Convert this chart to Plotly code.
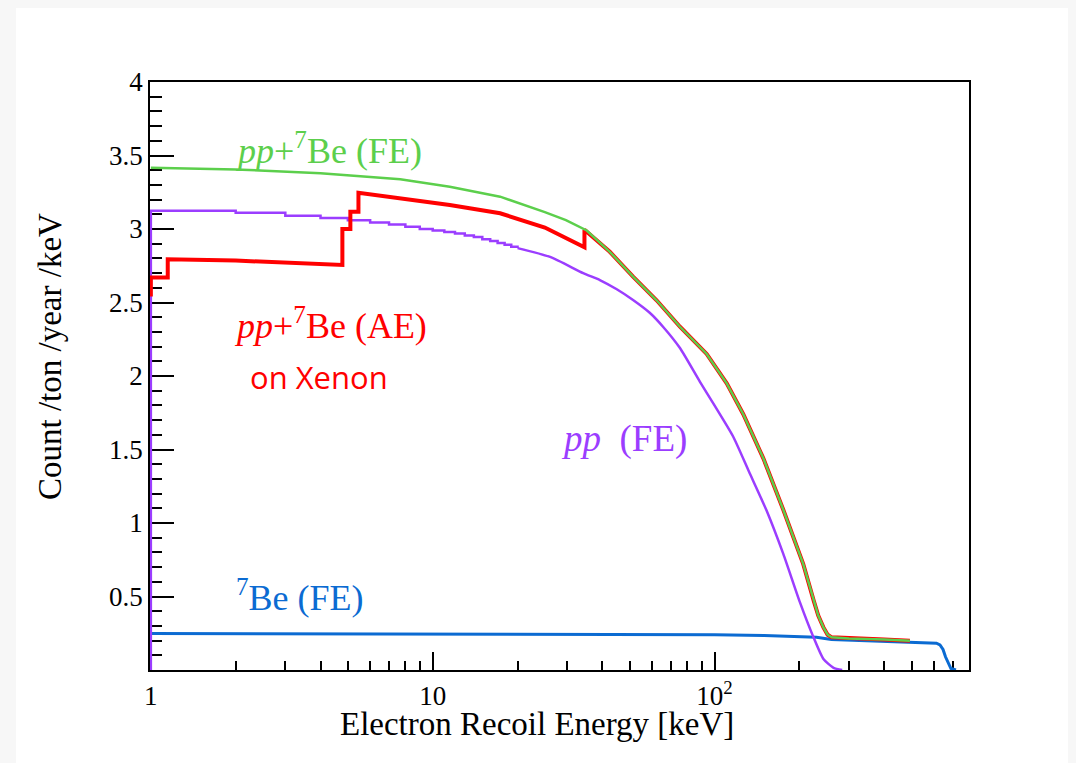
import plotly.graph_objects as go

# ---------------- data ----------------
# pp + 7Be, full electron (FE) approximation  [keV, counts/ton/year/keV]
fe_total_E = [1, 2, 4, 7.67, 11.5, 17.35, 25, 29.7, 35.2, 42.5, 51.4, 62.3, 75.4, 93.8, 110.5, 126.5,
              149, 175.4, 206.5, 225, 233.4, 243.5, 252, 260.4, 300, 400, 493.5]
fe_total_y = [3.417, 3.405, 3.38, 3.338, 3.288, 3.22, 3.115, 3.06, 2.99, 2.845, 2.676, 2.515, 2.335, 2.15, 1.95, 1.74,
              1.44, 1.09, 0.72, 0.47, 0.37, 0.29, 0.24, 0.222, 0.215, 0.207, 0.199]

# pp + 7Be, atomic effects (AE) on xenon (steps at shell binding energies)
ae_total_E = [1.0, 1.0, 1.148, 1.148, 2, 3, 4.782, 4.782, 5.104, 5.104, 5.453, 5.453,
              7.67, 11.5, 17.35, 25, 34.56, 34.56, 42.5, 51.4, 62.3, 75.4, 93.8, 110.5, 126.5,
              149, 175.4, 206.5, 225, 233.4, 243.5, 252, 260.4, 300, 400, 493.5]
ae_total_y = [2.54, 2.67, 2.67, 2.794, 2.785, 2.772, 2.755, 3.0, 3.0, 3.118, 3.118, 3.247,
              3.208, 3.163, 3.107, 3.01, 2.875, 2.995, 2.845, 2.676, 2.515, 2.335, 2.15, 1.95, 1.74,
              1.44, 1.09, 0.72, 0.47, 0.37, 0.29, 0.24, 0.222, 0.215, 0.207, 0.199]

# pp only (FE): 1-keV histogram at low energy ...
pp_bin_edges = [1, 1, 2, 3, 4, 5, 6, 7, 8, 9, 10, 11, 12, 13, 14, 15, 16, 17, 18, 19, 20]
pp_bin_vals = [0, 3.125, 3.11, 3.09, 3.075, 3.06, 3.045, 3.03, 3.015, 3.0, 2.99, 2.98,
               2.97, 2.955, 2.945, 2.93, 2.918, 2.905, 2.893, 2.88, 2.87]
# ... and its smooth continuation
pp_E = [20, 26.1, 34.2, 39.2, 45, 51.4, 58.9, 66, 75.4, 88.8, 100, 116.3, 132.5, 153.4, 175.4,
        201, 224, 243.5, 264.5, 283.8]
pp_y = [2.87, 2.81, 2.70, 2.653, 2.59, 2.517, 2.43, 2.33, 2.19, 1.96, 1.80, 1.59, 1.35, 1.08, 0.79,
        0.46, 0.227, 0.075, 0.015, 0.0]

# 7Be only (FE)
be_E = [1, 10, 50, 100, 150, 200, 230, 260, 300, 400, 500, 594, 613, 631, 647, 660, 675, 690, 719]
be_y = [0.249, 0.247, 0.244, 0.240, 0.235, 0.228, 0.222, 0.207, 0.203, 0.195, 0.190, 0.184,
        0.182, 0.17, 0.14, 0.09, 0.05, 0.01, 0.0]

# axis ticks
x_tickvals = [1, 10, 100]
x_ticktext = ["1", "10", "10<sup>2</sup>"]
x_minor = [2, 3, 4, 5, 6, 7, 8, 9, 20, 30, 40, 50, 60, 70, 80, 90, 200, 300, 400, 500, 600, 700]
y_tickvals = [0.5, 1, 1.5, 2, 2.5, 3, 3.5, 4]
y_ticktext = ["0.5", "1", "1.5", "2", "2.5", "3", "3.5", "4"]

# ---------------- colours ----------------
C_GREEN = "#5ccf4c"
C_RED = "#ff0000"
C_PURPLE = "#9b3dff"
C_BLUE = "#0b6bd2"
PAGE_GREY = "#f7f7f7"

fig = go.Figure()
fig.add_trace(go.Scatter(x=be_E, y=be_y, mode="lines", line=dict(color=C_BLUE, width=3), showlegend=False))
fig.add_trace(go.Scatter(x=pp_bin_edges, y=pp_bin_vals, mode="lines", line=dict(color=C_PURPLE, width=2.5, shape="hv"), showlegend=False))
fig.add_trace(go.Scatter(x=pp_E, y=pp_y, mode="lines", line=dict(color=C_PURPLE, width=2.5, shape="spline", smoothing=0.6), showlegend=False))
fig.add_trace(go.Scatter(x=ae_total_E, y=ae_total_y, mode="lines", line=dict(color=C_RED, width=4), showlegend=False))
fig.add_trace(go.Scatter(x=fe_total_E, y=fe_total_y, mode="lines", line=dict(color=C_GREEN, width=2.5), showlegend=False))

OFF = 8  # browser body margin
W, H = 1076 - OFF, 763 - OFF
L, R, T, B = 150 - OFF, 107, 82 - OFF, 93
PW, PH = W - L - R, H - T - B


def px(xp):  # page pixel -> paper x
    return (xp - OFF - L) / PW


def py(yp):  # page pixel -> paper y
    return (OFF + T + PH - yp) / PH


SERIF = "Liberation Serif"
fig.update_layout(
    width=W, height=H,
    margin=dict(l=L, r=R, t=T, b=B, pad=0),
    paper_bgcolor=PAGE_GREY,
    plot_bgcolor="white",
    font=dict(family=SERIF, color="black", size=27),
    showlegend=False,
    xaxis=dict(
        type="log", range=[-0.003, 2.903],
        tickmode="array", tickvals=x_tickvals, ticktext=x_ticktext,
        ticks="inside", ticklen=18, tickwidth=1.5, tickcolor="black",
        minor=dict(tickmode="array", tickvals=x_minor, ticks="inside", ticklen=9, tickwidth=1.5, tickcolor="black", showgrid=False),
        showline=True, linecolor="black", linewidth=1.5, mirror=True,
        showgrid=False, zeroline=False, layer="below traces",
        tickfont=dict(family=SERIF, size=27, color="black"),
        ticklabelstandoff=1,
    ),
    yaxis=dict(
        range=[0, 4],
        tickmode="array", tickvals=y_tickvals, ticktext=y_ticktext,
        ticks="inside", ticklen=24, tickwidth=1.5, tickcolor="black",
        minor=dict(dtick=0.1, tick0=0, ticks="inside", ticklen=12, tickwidth=1.5, tickcolor="black", showgrid=False),
        showline=True, linecolor="black", linewidth=1.5, mirror=True,
        showgrid=False, zeroline=False, layer="below traces",
        tickfont=dict(family=SERIF, size=27, color="black"),
        ticklabelstandoff=0,
    ),
)

# white page area (light grey border strip as in the screenshot)
fig.add_shape(type="rect", xref="paper", yref="paper",
              x0=px(16), x1=px(1075), y0=py(770), y1=py(7),
              fillcolor="white", line=dict(width=0), layer="below")

ann = [
    dict(text="<i>pp</i>+<sup>7</sup>Be (FE)", x=px(233), y=py(148), color=C_GREEN, family=SERIF, size=36),
    dict(text="<i>pp</i>+<sup>7</sup>Be (AE)", x=px(232), y=py(323), color=C_RED, family=SERIF, size=36),
    dict(text="on Xenon", x=px(248), y=py(377), color=C_RED, family="Open Sans", size=31),
    dict(text="<i>pp</i>  (FE)", x=px(559), y=py(439), color=C_PURPLE, family=SERIF, size=37),
    dict(text="<sup>7</sup>Be (FE)", x=px(234), y=py(595), color=C_BLUE, family=SERIF, size=36),
]
for a in ann:
    fig.add_annotation(text=a["text"], x=a["x"], y=a["y"], xref="paper", yref="paper",
                       xanchor="left", yanchor="middle", showarrow=False,
                       font=dict(family=a["family"], size=a["size"], color=a["color"]))

# axis titles
fig.add_annotation(text="Electron Recoil Energy [keV]", x=px(537), y=py(724), xref="paper", yref="paper",
                   xanchor="center", yanchor="middle", showarrow=False,
                   font=dict(family=SERIF, size=33, color="black"))
fig.add_annotation(text="Count /ton /year /keV", x=px(50), y=py(357), xref="paper", yref="paper",
                   xanchor="center", yanchor="middle", showarrow=False, textangle=-90,
                   font=dict(family=SERIF, size=33, color="black"))

fig.write_html("out.html", post_script="document.body.style.background='%s';" % PAGE_GREY)
